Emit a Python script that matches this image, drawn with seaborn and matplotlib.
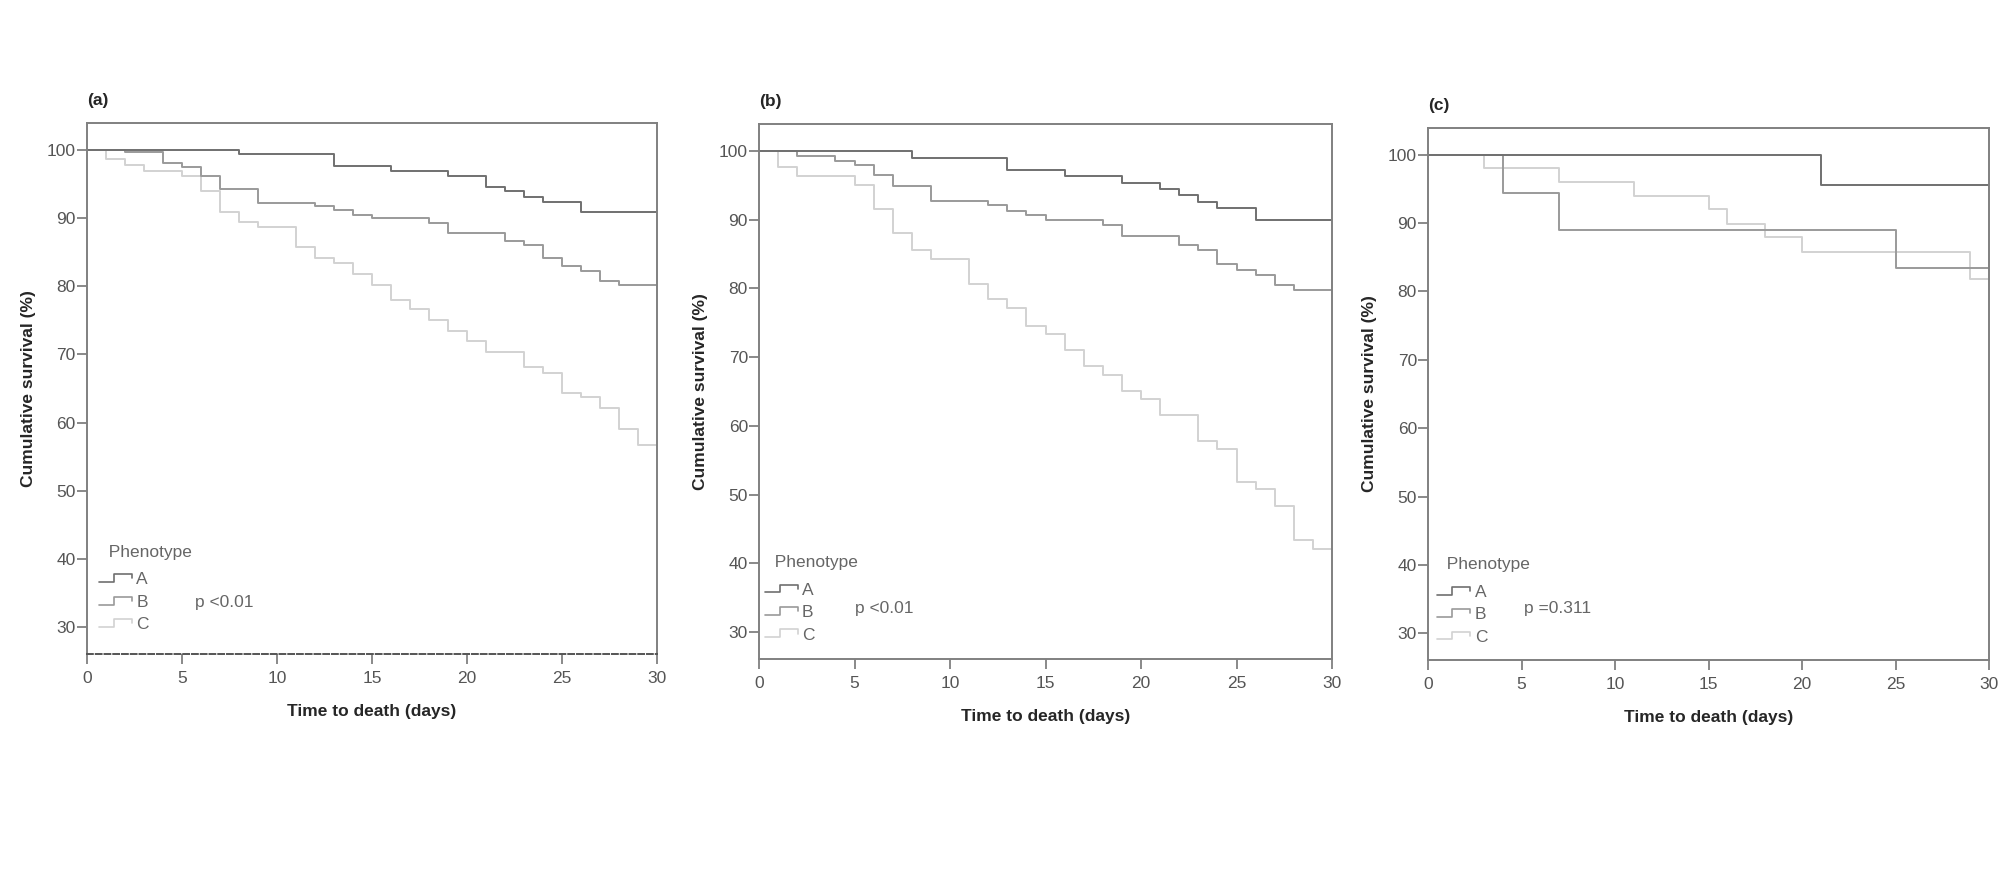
import numpy as np
import pandas as pd
import matplotlib
matplotlib.use("Agg")
import matplotlib.pyplot as plt
from matplotlib import font_manager
from matplotlib.lines import Line2D
from matplotlib.legend_handler import HandlerBase
import seaborn as sns

# Kaplan-Meier steps: day of each event and survival (%) after it
panels = ["(a)", "(b)", "(c)"]
phenotypes = ["A", "B", "C"]
p_labels = ["p <0.01", "p <0.01", "p =0.311"]

a_days_A = [0, 8, 13, 16, 19, 21, 22, 23, 24, 26, 30]
a_surv_A = [100, 99.3, 97.6, 96.9, 96.1, 94.6, 93.9, 93.1, 92.3, 90.8, 90.8]
a_days_B = [0, 2, 4, 5, 6, 7, 9, 12, 13, 14, 15, 18, 19, 22, 23, 24, 25, 26, 27, 28, 30]
a_surv_B = [100, 99.6, 98.1, 97.4, 96.2, 94.2, 92.2, 91.7, 91.1, 90.4, 90.0, 89.2, 87.8,
            86.6, 86.0, 84.1, 82.9, 82.2, 80.8, 80.2, 80.2]
a_days_C = [0, 1, 2, 3, 5, 6, 7, 8, 9, 11, 12, 13, 14, 15, 16, 17, 18, 19, 20, 21, 23,
            24, 25, 26, 27, 28, 29, 30]
a_surv_C = [100, 98.6, 97.7, 96.9, 96.2, 94.0, 90.8, 89.4, 88.7, 85.8, 84.1, 83.4, 81.8,
            80.2, 78.0, 76.6, 75.0, 73.5, 72.0, 70.4, 68.1, 67.3, 64.4, 63.7, 62.1, 59.0,
            56.8, 56.8]

b_days_A = [0, 8, 13, 16, 19, 21, 22, 23, 24, 26, 30]
b_surv_A = [100, 99.0, 97.3, 96.4, 95.4, 94.5, 93.6, 92.6, 91.7, 89.9, 89.9]
b_days_B = [0, 2, 4, 5, 6, 7, 9, 12, 13, 14, 15, 18, 19, 22, 23, 24, 25, 26, 27, 28, 30]
b_surv_B = [100, 99.3, 98.6, 97.9, 96.5, 94.9, 92.7, 92.1, 91.3, 90.7, 89.9, 89.2, 87.7,
            86.3, 85.6, 83.5, 82.7, 82.0, 80.5, 79.8, 79.8]
b_days_C = [0, 1, 2, 5, 6, 7, 8, 9, 11, 12, 13, 14, 15, 16, 17, 18, 19, 20, 21, 23, 24,
            25, 26, 27, 28, 29, 30]
b_surv_C = [100, 97.7, 96.4, 95.1, 91.5, 88.0, 85.6, 84.3, 80.7, 78.4, 77.1, 74.6, 73.4,
            71.0, 68.7, 67.4, 65.1, 63.9, 61.6, 57.8, 56.7, 51.9, 50.8, 48.3, 43.4, 42.1,
            42.1]

c_days_A = [0, 21, 30]
c_surv_A = [100, 95.5, 95.5]
c_days_B = [0, 4, 7, 25, 30]
c_surv_B = [100, 94.4, 89.0, 83.4, 83.4]
c_days_C = [0, 3, 7, 11, 15, 16, 18, 20, 29, 30]
c_surv_C = [100, 98.1, 96.0, 93.9, 92.0, 89.9, 87.9, 85.8, 81.8, 81.8]

curves = {
    "(a)": {"A": (a_days_A, a_surv_A), "B": (a_days_B, a_surv_B), "C": (a_days_C, a_surv_C)},
    "(b)": {"A": (b_days_A, b_surv_A), "B": (b_days_B, b_surv_B), "C": (b_days_C, b_surv_C)},
    "(c)": {"A": (c_days_A, c_surv_A), "B": (c_days_B, c_surv_B), "C": (c_days_C, c_surv_C)},
}

rows = []
for pan, groups in curves.items():
    for ph, (days, surv) in groups.items():
        for d, s in zip(days, surv):
            rows.append({"panel": pan, "Phenotype": ph, "day": d, "surv": s})
df = pd.DataFrame(rows)

sns.set_style("white")
names = {f.name for f in font_manager.fontManager.ttflist}
narrow = "Liberation Sans Narrow" if "Liberation Sans Narrow" in names else "Liberation Sans"
plt.rcParams["font.family"] = [narrow, "DejaVu Sans"]
fs = 14 if narrow.endswith("Narrow") else 12.5

colors = {"A": "#707070", "B": "#9a9a9a", "C": "#d2d2d2"}
spine_c = "#808080"
text_c = "#555555"


class HandlerStep(HandlerBase):
    def create_artists(self, legend, orig_handle, xdescent, ydescent, width, height,
                       fontsize, trans):
        xs = [-xdescent + f * width for f in (0, 0.45, 0.45, 1, 1)]
        ys = [-ydescent + f * height for f in (0.2, 0.2, 0.85, 0.85, 0.5)]
        ln = Line2D(xs, ys, color=orig_handle.get_color(), lw=orig_handle.get_linewidth(),
                    transform=trans)
        return [ln]


fig = plt.figure(figsize=(20.08, 8.93), dpi=100)
rects = [
    [0.0433, 0.2676, 0.2839, 0.5946],
    [0.3780, 0.2620, 0.2854, 0.5990],
    [0.7112, 0.2610, 0.2794, 0.5957],
]
leg_pos = [(0.63, 42.1), (0.3, 41.2), (0.5, 41.1)]
p_pos = [(5.7, 33.6), (5.0, 33.5), (5.15, 33.6)]

for i, pan in enumerate(panels):
    ax = fig.add_axes(rects[i])
    sub = df[df["panel"] == pan]
    sns.lineplot(data=sub, x="day", y="surv", hue="Phenotype", hue_order=["C", "B", "A"],
                 palette=colors, estimator=None, drawstyle="steps-post", linewidth=1.4,
                 legend=False, ax=ax)
    ax.set_xlim(0, 30)
    ax.set_ylim(26.1, 103.9)
    ax.set_xticks(range(0, 31, 5))
    ax.set_yticks(range(30, 101, 10))
    for s in ax.spines.values():
        s.set_visible(True)
        s.set_color(spine_c)
        s.set_linewidth(1.4)
    if i == 0:
        ax.spines["bottom"].set_linestyle((0, (3, 1.5)))
        ax.spines["bottom"].set_color("#555555")
    ax.tick_params(axis="both", direction="out", length=7, width=1.3, color=spine_c,
                   labelsize=fs, labelcolor=text_c, left=True, bottom=True)
    ax.tick_params(axis="y", pad=1)
    ax.tick_params(axis="x", pad=5)
    ax.set_xlabel("Time to death (days)", fontsize=fs, fontweight="bold", labelpad=13)
    ax.set_ylabel("Cumulative survival (%)", fontsize=fs, fontweight="bold", labelpad=8)
    ax.set_title(pan, loc="left", fontsize=fs, fontweight="bold", pad=13)

    handles = [Line2D([], [], color=colors[ph], lw=1.2) for ph in phenotypes]
    leg = ax.legend(handles, phenotypes, title="  Phenotype", loc="upper left",
                    bbox_to_anchor=leg_pos[i], bbox_transform=ax.transData,
                    frameon=False, borderpad=0, borderaxespad=0, handlelength=1.9,
                    handletextpad=0.25, labelspacing=0.42, fontsize=fs, title_fontsize=fs,
                    alignment="left", handler_map={Line2D: HandlerStep()})
    leg._legend_box.sep = 9
    leg.get_title().set_color("#666666")
    for t in leg.get_texts():
        t.set_color("#666666")
    ax.text(p_pos[i][0], p_pos[i][1], p_labels[i], fontsize=fs, color="#666666",
            ha="left", va="center")

fig.savefig("out.png", dpi=100, facecolor="white")
